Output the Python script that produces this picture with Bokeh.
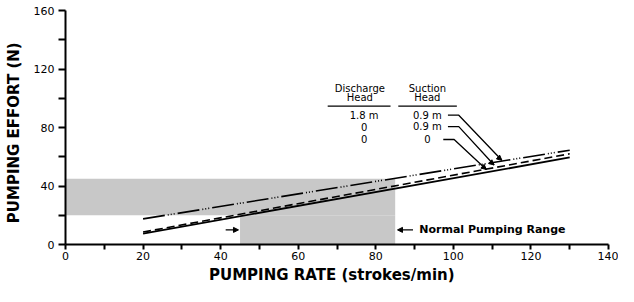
from bokeh.plotting import figure
from bokeh.models import Range1d, FixedTicker, Arrow, NormalHead
from bokeh.embed import file_html
from bokeh.resources import INLINE
from bokeh.core.properties import value

# ---- data ----
rate = [20, 130]                      # strokes/min
effort_18_09 = [17.5, 64.5]           # discharge 1.8 m, suction 0.9 m
effort_0_09 = [8.5, 62.0]             # discharge 0, suction 0.9 m
effort_0_0 = [7.5, 59.5]              # discharge 0, suction 0

effort_band_rate = [0, 85]            # normal pumping effort band
effort_band = [20, 45]
normal_rate = [45, 85]                # normal pumping range

x_ticks = [0, 20, 40, 60, 80, 100, 120, 140]
x_minor = [10, 30, 50, 70, 90, 110, 130]
y_ticks = [0, 40, 80, 120, 160]
y_minor = [20, 60, 100, 140]

discharge_vals = ["1.8 m", "0", "0"]
suction_vals = ["0.9 m", "0.9 m", "0"]
row_y = [88.4, 80.6, 71.8]

FONT = "DejaVu Sans"

p = figure(width=618, height=286, output_backend="svg", toolbar_location=None,
           x_range=Range1d(0, 140), y_range=Range1d(0, 160),
           min_border_left=65, min_border_right=10, min_border_top=10, min_border_bottom=42)
p.outline_line_color = None
p.xgrid.visible = False
p.ygrid.visible = False
p.background_fill_color = "white"

# gray regions
p.quad(left=[effort_band_rate[0], normal_rate[0]], right=[effort_band_rate[1], normal_rate[1]],
       bottom=[effort_band[0], 0], top=[effort_band[1], effort_band[0]],
       fill_color="#c8c8c8", line_color=None)

# lines
p.line(rate, effort_18_09, line_color="black", line_width=1.6, line_dash="22 3 1 2 1 2 1 3")
p.line(rate, effort_0_09, line_color="black", line_width=1.6, line_dash="8 4")
p.line(rate, effort_0_0, line_color="black", line_width=1.8)

# table
p.text(x=[75.9, 75.9, 93.3, 93.3], y=[107.0, 100.3, 107.0, 100.3],
       text=["Discharge", "Head", "Suction", "Head"],
       text_font=value(FONT), text_font_size="10px", text_align="center",
       text_baseline="middle", text_color="black")
p.segment(x0=[67.6, 85.8], y0=[94.6, 94.6], x1=[83.8, 100.9], y1=[94.6, 94.6],
          line_color="black", line_width=1.2)
p.text(x=[77.0] * 3, y=row_y, text=discharge_vals, text_font=value(FONT),
       text_font_size="10px", text_align="center", text_baseline="middle")
p.text(x=[93.3] * 3, y=row_y, text=suction_vals, text_font=value(FONT),
       text_font_size="10px", text_align="center", text_baseline="middle")

# leaders
leaders = [
    ([98.6, 101.4], 112.5, 57.6),
    ([98.6, 101.4], 110.5, 54.4),
    ([97.4, 100.2], 108.5, 51.3),
]
for (hx, ex, ey), ry in zip(leaders, row_y):
    p.line([hx[0], hx[1], ex], [ry, ry, ey], line_color="black", line_width=1.3)
    p.add_layout(Arrow(end=NormalHead(size=5, fill_color="black", line_color="black"),
                       x_start=ex - 0.8, y_start=ey + 1.8, x_end=ex, y_end=ey,
                       line_color="black", line_width=1.3))

# normal pumping range arrows
p.add_layout(Arrow(end=NormalHead(size=5, fill_color="black", line_color="black"),
                   x_start=41.3, y_start=10, x_end=44.6, y_end=10, line_width=1.3))
p.add_layout(Arrow(end=NormalHead(size=5, fill_color="black", line_color="black"),
                   x_start=89.6, y_start=10, x_end=85.6, y_end=10, line_width=1.3))
p.text(x=[91.2], y=[10], text=["Normal Pumping Range"], text_font=value(FONT),
       text_font_size="11px", text_font_style="bold", text_align="left", text_baseline="middle")

# axes
for ax in (p.xaxis[0], p.yaxis[0]):
    ax.axis_line_width = 2
    ax.major_tick_line_width = 2
    ax.minor_tick_line_width = 2
    ax.major_tick_in = 0
    ax.minor_tick_in = 0
    ax.major_label_text_font = FONT
    ax.major_label_text_font_size = "11px"
    ax.major_label_text_color = "black"
    ax.axis_label_text_font = FONT
    ax.axis_label_text_font_style = "bold"
    ax.axis_label_text_font_size = "15px"
    ax.axis_label_text_color = "black"

p.xaxis.ticker = FixedTicker(ticks=x_ticks, minor_ticks=x_minor)
p.yaxis.ticker = FixedTicker(ticks=y_ticks, minor_ticks=y_minor)
p.xaxis.major_tick_out = 5
p.xaxis.minor_tick_out = 5
p.yaxis.major_tick_out = 7
p.yaxis.minor_tick_out = 7
p.xaxis.major_label_standoff = 2
p.yaxis.major_label_standoff = 4
p.xaxis.axis_label = "PUMPING  RATE  (strokes/min)"
p.yaxis.axis_label = "PUMPING  EFFORT  (N)"
p.xaxis.axis_label_standoff = 3
p.yaxis.axis_label_standoff = 8

open("out.html", "w").write(file_html(p, INLINE))
